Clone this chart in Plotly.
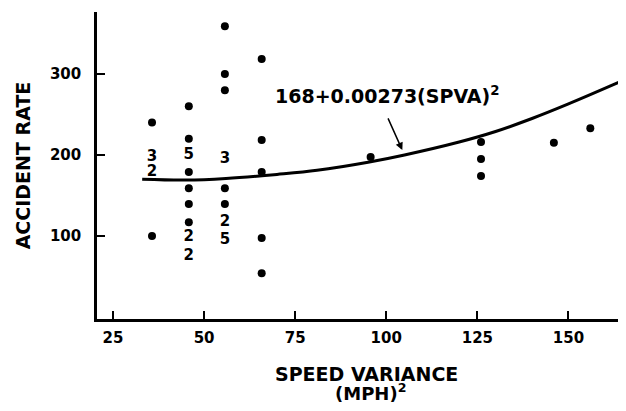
import plotly.graph_objects as go

# single observations (dots)
dot_x = [35.7, 35.7,
         45.8, 45.8, 45.8, 45.8, 45.8, 45.8,
         55.7, 55.7, 55.7, 55.7, 55.7,
         65.8, 65.8, 65.8, 65.8, 65.8,
         95.7,
         126, 126, 126,
         146,
         156]
dot_y = [240, 100,
         260, 220, 179, 159, 139.5, 117,
         359, 300, 280, 159, 139.5,
         318.5, 218.5, 179, 97.5, 54,
         197.5,
         216, 195, 174,
         215,
         233]

# multiple observations (count labels)
count_x = [35.7, 35.7, 45.8, 45.8, 45.8, 55.7, 55.7, 55.7]
count_y = [197.5, 179, 200, 99, 75, 195, 117, 95]
count_text = ["3", "2", "5", "2", "2", "3", "2", "5"]

# fitted curve as drawn
curve_x = [33, 45, 56, 70, 81, 95, 105, 120, 130, 140, 150, 164]
curve_y = [170, 169, 171, 176, 181, 191, 200, 216, 229, 245, 263, 290]

x_ticks = [25, 50, 75, 100, 125, 150]
y_ticks = [100, 200, 300]

FONT = "DejaVu Sans"

fig = go.Figure()
fig.add_trace(go.Scatter(x=curve_x, y=curve_y, mode="lines",
                         line=dict(color="black", width=3, shape="spline", smoothing=1.0),
                         hoverinfo="skip", showlegend=False, cliponaxis=False))
fig.add_trace(go.Scatter(x=dot_x, y=dot_y, mode="markers",
                         marker=dict(color="black", size=8),
                         showlegend=False))
fig.add_trace(go.Scatter(x=count_x, y=count_y, mode="text", text=count_text,
                         textfont=dict(family=FONT, size=15, color="black", weight="bold"),
                         showlegend=False))

fig.add_annotation(x=68.8, y=274, xref="x", yref="y", xanchor="left", yanchor="middle",
                   text="168+0.00273(SPVA)<sup>2</sup>", showarrow=False,
                   font=dict(family=FONT, size=19, color="black", weight="bold"))
fig.add_annotation(x=104.4, y=206, xref="x", yref="y", ax=100.3, ay=247,
                   axref="x", ayref="y", text="", showarrow=True,
                   arrowhead=2, arrowsize=1, arrowwidth=1.5, arrowcolor="black")

# x-axis title (two lines)
fig.add_annotation(x=0.518, y=-0.178, xref="paper", yref="paper",
                   xanchor="center", yanchor="middle", showarrow=False,
                   text="SPEED VARIANCE",
                   font=dict(family=FONT, size=19, color="black", weight="bold"))
fig.add_annotation(x=0.524, y=-0.238, xref="paper", yref="paper",
                   xanchor="center", yanchor="middle", showarrow=False,
                   text="(MPH)<sup>2</sup>",
                   font=dict(family=FONT, size=18, color="black", weight="bold"))

fig.update_layout(
    width=610, height=395,
    margin=dict(l=89, r=0, t=4, b=84, autoexpand=False),
    paper_bgcolor="white", plot_bgcolor="white",
    font=dict(family=FONT, color="black", weight="bold"),
    xaxis=dict(range=[20.6, 163.6], tickvals=x_ticks, ticks="inside", ticklen=8,
               tickwidth=2, tickcolor="black", showline=True, linecolor="black",
               linewidth=2.5, showgrid=False, zeroline=False, automargin=False,
               ticklabelstandoff=3,
               tickfont=dict(family=FONT, size=15, weight="bold")),
    yaxis=dict(range=[-2.5, 376.5], tickvals=y_ticks, ticks="inside", ticklen=8,
               tickwidth=2, tickcolor="black", showline=True, linecolor="black",
               linewidth=2.5, showgrid=False, zeroline=False, automargin=False,
               ticklabelstandoff=10,
               tickfont=dict(family=FONT, size=15, weight="bold"),
               title=dict(text="ACCIDENT RATE",
                          font=dict(family=FONT, size=19, weight="bold"), standoff=15)),
)

fig.write_html("out.html")
